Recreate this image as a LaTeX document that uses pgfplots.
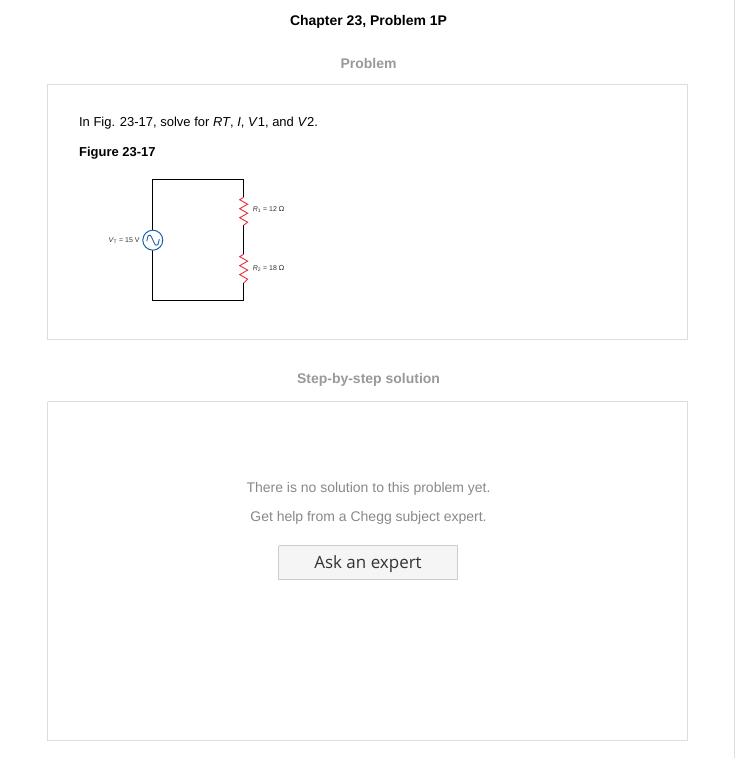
\documentclass[border=0pt]{standalone}
\usepackage{pgfplots}
\pgfplotsset{compat=1.18}
\usepackage{fontspec}
\setmainfont{Liberation Sans}
\newfontfamily\btn{Open Sans}
\newfontfamily\dv{DejaVu Sans}
\definecolor{bx}{HTML}{DDDDDD}
\definecolor{gt}{HTML}{999999}
\definecolor{mt}{HTML}{888888}
\definecolor{cb}{HTML}{1F5FAE}
\definecolor{rr}{HTML}{E8303A}
\begin{document}
\begin{tikzpicture}
\begin{axis}[scale only axis, width=738pt, height=758pt, xmin=0, xmax=738, ymin=0, ymax=758, enlargelimits=false, y dir=reverse, axis line style={draw=none}, ticks=none, clip=false]
\addplot[draw=none] coordinates {(0,0)(738,758)};
% boxes
\addplot[bx, line width=1pt] coordinates {(48,84)(688,84)(688,339)(48,339)(48,84)};
\addplot[bx, line width=1pt] coordinates {(48,402)(688,402)(688,741)(48,741)(48,402)};
\addplot[bx, line width=1pt] coordinates {(735,0)(735,758)};
\addplot[draw=black!20, fill=black!4, line width=0.8pt] coordinates {(279,546)(458,546)(458,580)(279,580)(279,546)};
% circuit wires
\addplot[black, line width=0.9pt] coordinates {(153,230)(153,179)(244,179)(244,197)};
\addplot[black, line width=0.9pt] coordinates {(153,250)(153,300)(244,300)(244,283)};
\addplot[black, line width=0.9pt] coordinates {(244,225)(244,254)};
\addplot[rr, line width=0.9pt] coordinates {(244,197)(240,199.5)(248,204)(240,208.5)(248,213)(240,217.5)(248,222)(244,225)};
\addplot[rr, line width=0.9pt] coordinates {(244,254)(240,256.5)(248,261)(240,265.5)(248,270)(240,274.5)(248,279)(244,283)};
\draw[cb, line width=1pt, fill=white] (axis cs:153,240) circle [radius=10pt];
\addplot[cb, line width=0.9pt, smooth] coordinates {(147,241)(148.5,235.5)(150.5,235)(152.5,238.5)(154,242)(156,245)(158,244.5)(159.5,239)};
\node[font=\fontsize{14}{16}\selectfont\bfseries] at (axis cs:369,21) {Chapter 23, Problem 1P};
\node[font=\fontsize{14}{16}\selectfont\bfseries, text=gt] at (axis cs:369,63) {Problem};
\node[font=\fontsize{13}{15}\selectfont, anchor=west, inner sep=0] at (axis cs:79,123) {In Fig. 23-17, solve for \textit{RT}, \textit{I}, \textit{V}1, and \textit{V}2.};
\node[font=\fontsize{13}{15}\selectfont\bfseries, anchor=west, inner sep=0] at (axis cs:79,153) {Figure 23-17};
\node[font=\fontsize{7}{8}\selectfont, anchor=east, inner sep=0, text=black!80] at (axis cs:140,240) {\textit{V}\textsubscript{T} = 15 V};
\node[font=\fontsize{7}{8}\selectfont, anchor=west, inner sep=0, text=black!80] at (axis cs:253,209) {\textit{R}\textsubscript{1} = 12 {\dv Ω}};
\node[font=\fontsize{7}{8}\selectfont, anchor=west, inner sep=0, text=black!80] at (axis cs:253,268) {\textit{R}\textsubscript{2} = 18 {\dv Ω}};
\node[font=\fontsize{14}{16}\selectfont\bfseries, text=gt] at (axis cs:369,380) {Step-by-step solution};
\node[font=\fontsize{14}{16}\selectfont, text=mt] at (axis cs:369,489) {There is no solution to this problem yet.};
\node[font=\fontsize{14}{16}\selectfont, text=mt] at (axis cs:369,518) {Get help from a Chegg subject expert.};
\node[font=\btn\fontsize{17}{19}\selectfont, text=black!80] at (axis cs:368.5,564) {Ask an expert};
\end{axis}
\end{tikzpicture}
\end{document}
